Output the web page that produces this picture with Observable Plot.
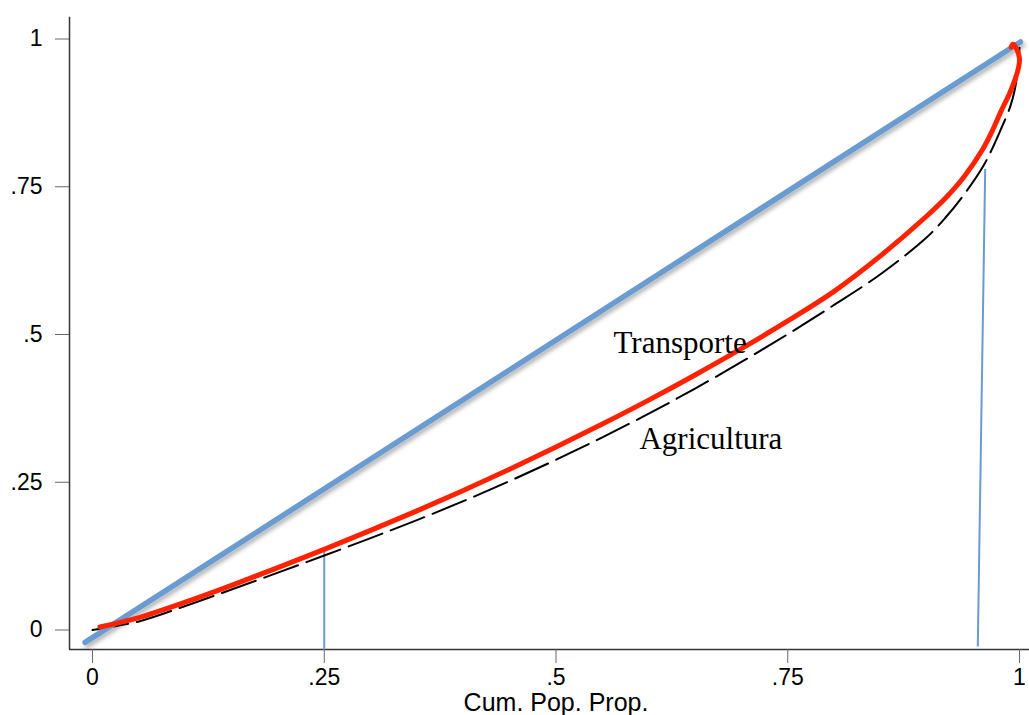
<!DOCTYPE html>
<html><head><meta charset="utf-8">
<script src="https://cdn.jsdelivr.net/npm/d3@7"></script>
<script src="https://cdn.jsdelivr.net/npm/@observablehq/plot@0.6"></script>
<style>body{margin:0;background:#fff}</style>
</head><body><div id="chart"></div>
<script>
const xTicks = [0, 0.25, 0.5, 0.75, 1];
const xTickLabels = ["0", ".25", ".5", ".75", "1"];
const yTicks = [0, 0.25, 0.5, 0.75, 1];
const yTickLabels = ["0", ".25", ".5", ".75", "1"];
const xTitle = "Cum. Pop. Prop.";

const equalityX = [-0.008, 1.001];
const equalityY = [-0.021, 0.995];

const transporteX = [0.008, 0.05, 0.10, 0.15, 0.20, 0.25, 0.30, 0.35, 0.40, 0.45, 0.50, 0.55, 0.60, 0.65, 0.70, 0.75, 0.80, 0.85, 0.90, 0.92, 0.94, 0.96, 0.97, 0.98, 0.99, 0.9955, 0.999, 1.000, 0.997, 0.993, 0.991];
const transporteY = [0.005, 0.021, 0.047, 0.0755, 0.1055, 0.1365, 0.1685, 0.2015, 0.236, 0.272, 0.3095, 0.3485, 0.389, 0.4315, 0.476, 0.523, 0.573, 0.633, 0.7005, 0.7305, 0.7665, 0.8125, 0.8425, 0.8775, 0.9105, 0.933, 0.952, 0.967, 0.983, 0.991, 0.986];

const agriculturaX = [0.000, 0.05, 0.10, 0.15, 0.20, 0.25, 0.30, 0.35, 0.40, 0.45, 0.50, 0.55, 0.60, 0.65, 0.70, 0.75, 0.80, 0.85, 0.90, 0.92, 0.94, 0.96, 0.97, 0.98, 0.99, 0.995, 0.998, 1.000];
const agriculturaY = [0.000, 0.0145, 0.0405, 0.0685, 0.097, 0.126, 0.1555, 0.186, 0.218, 0.252, 0.288, 0.326, 0.366, 0.4085, 0.4535, 0.5005, 0.550, 0.602, 0.6645, 0.6975, 0.7365, 0.7825, 0.8125, 0.8475, 0.8855, 0.915, 0.946, 0.985];

const markerX1 = [0.25, 0.955];
const markerY1 = [-0.033, -0.028];
const markerX2 = [0.25, 0.963];
const markerY2 = [0.138, 0.780];

const labelNames = ["Transporte", "Agricultura"];
const labelX = [0.562, 0.590];
const labelY = [0.485, 0.323];

const BLUE = "#6a9bd1";
const toPts = (xs, ys) => xs.map((x, i) => ({x, y: ys[i]}));
const equality = toPts(equalityX, equalityY);
const transporte = toPts(transporteX, transporteY);
const agricultura = toPts(agriculturaX, agriculturaY);
const markers = markerX1.map((x, i) => ({x1: x, y1: markerY1[i], x2: markerX2[i], y2: markerY2[i]}));
const labels = labelNames.map((t, i) => ({t, x: labelX[i], y: labelY[i]}));

const chart = Plot.plot({
  width: 1029,
  height: 715,
  marginLeft: 92,
  marginRight: 10,
  marginTop: 38.5,
  marginBottom: 85.5,
  x: {domain: [0, 1]},
  y: {domain: [0, 1]},
  style: {fontFamily: "'Liberation Sans', Arial, sans-serif", fontSize: "23px", background: "#fff", color: "#000"},
  marks: [
    Plot.ruleX([-0.0248], {y1: -0.033, y2: 1.037, stroke: "#333", strokeWidth: 1.5}),
    Plot.ruleY([-0.033], {x1: -0.0248, x2: 1.012, stroke: "#333", strokeWidth: 1.5}),
    Plot.axisY(yTicks, {tickFormat: d => yTickLabels[yTicks.indexOf(d)], tickSize: 14, tickPadding: 13, dx: -23, stroke: "#666", fontSize: 23}),
    Plot.axisX(xTicks, {tickFormat: d => xTickLabels[xTicks.indexOf(d)], tickSize: 14, tickPadding: 5, dy: 19.5, stroke: "#666", fontSize: 23}),
    Plot.text([xTitle], {x: 0.5, frameAnchor: "bottom", dy: 73.2, fontSize: 25, lineAnchor: "middle", fill: "#000"}),
    Plot.link(markers, {x1: "x1", y1: "y1", x2: "x2", y2: "y2", stroke: "#6a9bd0", strokeWidth: 2}),
    Plot.line(agricultura, {x: "x", y: "y", stroke: "#000", strokeWidth: 2, strokeDasharray: "36,9", curve: "catmull-rom"}),
    Plot.line(equality, {x: "x", y: "y", stroke: BLUE, strokeWidth: 5.5}),
    Plot.line(transporte, {x: "x", y: "y", stroke: "#ff2200", strokeWidth: 5, curve: "catmull-rom", strokeLinecap: "round"}),
    Plot.text(labels, {x: "x", y: "y", text: "t", textAnchor: "start", lineAnchor: "middle", fontSize: 31, fontFamily: "'Liberation Serif', 'Times New Roman', serif", fill: "#000"})
  ]
});

// drop shadow on the equality line
const svgNS = "http://www.w3.org/2000/svg";
const svg = chart.tagName.toLowerCase() === "svg" ? chart : chart.querySelector("svg");
const defs = document.createElementNS(svgNS, "defs");
defs.innerHTML = '<filter id="shadow" x="-5%" y="-5%" width="110%" height="110%"><feDropShadow dx="2" dy="3" stdDeviation="2" flood-color="#000" flood-opacity="0.3"/></filter>';
svg.insertBefore(defs, svg.firstChild);
svg.querySelectorAll('[stroke="' + BLUE + '"]').forEach(el => el.setAttribute("filter", "url(#shadow)"));

document.getElementById("chart").appendChild(chart);
</script>
</body></html>
